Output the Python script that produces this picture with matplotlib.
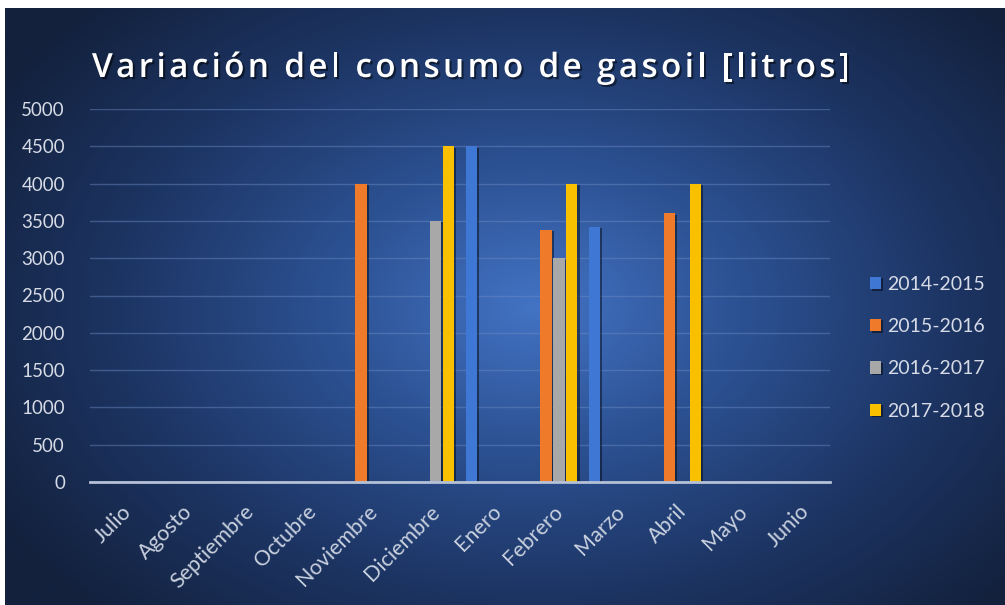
import matplotlib.pyplot as plt
import matplotlib.patheffects as pe
from matplotlib.colors import LinearSegmentedColormap
import numpy as np

meses = ["Julio", "Agosto", "Septiembre", "Octubre", "Noviembre", "Diciembre",
         "Enero", "Febrero", "Marzo", "Abril", "Mayo", "Junio"]
temporadas = ["2014-2015", "2015-2016", "2016-2017", "2017-2018"]

# litros por mes y temporada (0 = sin registro)
consumo_2014 = [0, 0, 0, 0, 0, 0, 4500, 0, 3420, 0, 0, 0]
consumo_2015 = [0, 0, 0, 0, 4000, 0, 0, 3380, 0, 3600, 0, 0]
consumo_2016 = [0, 0, 0, 0, 0, 3500, 0, 3000, 0, 0, 0, 0]
consumo_2017 = [0, 0, 0, 0, 0, 4500, 0, 4000, 0, 4000, 0, 0]
series = [consumo_2014, consumo_2015, consumo_2016, consumo_2017]

titulo = "Variación del consumo de gasoil [litros]"
colores = ["#3f77d4", "#ef7a2a", "#a8a8a8", "#f9c000"]
yticks = np.arange(0, 5001, 500)

fig = plt.figure(figsize=(10.05, 6.05), dpi=100, facecolor="white")

# fondo con degradado radial
bg = fig.add_axes([5 / 1005, 0, 1 - 5 / 1005, 597 / 605])
bg.set_axis_off()
xx, yy = np.meshgrid(np.linspace(0, 1, 400), np.linspace(0, 1, 300))
d = np.sqrt(((xx - 0.53) / 0.62) ** 2 + ((yy - 0.50) / 0.72) ** 2)
d = np.clip(d, 0, 1)
cmap = LinearSegmentedColormap.from_list("fondo", ["#4373c4", "#2c5192", "#1d3564", "#13213d"])
bg.imshow(d, cmap=cmap, aspect="auto", extent=[0, 1, 0, 1], origin="upper", vmin=0, vmax=1)
bg.set_xlim(0, 1)
bg.set_ylim(0, 1)

ax = fig.add_axes([90 / 1005, 123 / 605, 740 / 1005, 373 / 605])
ax.set_facecolor("none")
x = np.arange(len(meses))
ancho = 0.18
paso = 0.21
sombra = [pe.SimplePatchShadow(offset=(1.5, -1), shadow_rgbFace="black", alpha=0.45), pe.Normal()]
for i, (valores, color, nombre) in enumerate(zip(series, colores, temporadas)):
    barras = ax.bar(x + (i - 1.5) * paso, valores, ancho, color=color, label=nombre, zorder=3)
    for b in barras:
        b.set_path_effects(sombra)

ax.set_xlim(-0.5, len(meses) - 0.5)
ax.set_ylim(0, 5000)
ax.set_yticks(yticks)
ax.set_yticklabels([str(v) for v in yticks], fontsize=13.5, color="#d6dbe6", family="Lato")
ax.set_xticks(x)
ax.set_xticklabels(meses, rotation=45, ha="right", va="top", rotation_mode="anchor",
                   fontsize=15.5, color="#c9d1df", family="Lato")
ax.tick_params(length=0)
ax.tick_params(axis="y", pad=18)
ax.tick_params(axis="x", pad=14)
ax.grid(axis="y", color="#6d8cc4", alpha=0.45, linewidth=1, zorder=0)
for s in ["top", "right", "left"]:
    ax.spines[s].set_visible(False)
ax.spines["bottom"].set_color("#b5c1d6")
ax.spines["bottom"].set_linewidth(2)
ax.spines["bottom"].set_zorder(4)

leg = ax.legend(loc="center left", bbox_to_anchor=(1.03, 0.36), frameon=False,
                handlelength=0.6, handleheight=0.6, handletextpad=0.3, labelspacing=1.3,
                prop={"family": "Lato", "size": 14})
for t in leg.get_texts():
    t.set_color("#d6dbe6")

# titulo con espaciado entre letras
renderer = fig.canvas.get_renderer()
fuente = dict(fontsize=24, fontweight="semibold", family="Open Sans")
sombra_txt = [pe.withSimplePatchShadow(offset=(1.5, -1.5), shadow_rgbFace="black", alpha=0.5)]


def ancho_texto(s):
    t = fig.text(0, 0, s, **fuente)
    w = t.get_window_extent(renderer).width
    t.remove()
    return w


ancho_espacio = ancho_texto("a a") - 2 * ancho_texto("a")
xpos = 92.0
espaciado = 3.3
for ch in titulo:
    if ch == " ":
        xpos += ancho_espacio + espaciado
        continue
    t = fig.text(xpos / 1005, 1 - 77 / 605, ch, color="white", va="baseline", ha="left",
                 path_effects=sombra_txt, **fuente)
    xpos += t.get_window_extent(renderer).width + espaciado

fig.savefig("out.png", dpi=100, facecolor="white")
